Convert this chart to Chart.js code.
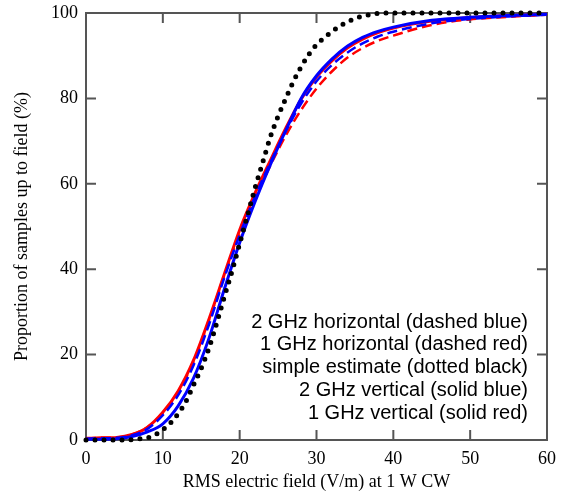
<!DOCTYPE html>
<html lang="en">
<head>
  <meta charset="UTF-8" />
  <title>RMS field distribution</title>
  <script src="https://cdn.jsdelivr.net/npm/chart.js"></script>
  <style>
    body { margin: 0; background: #fff; }
    canvas { display: block; }
  </style>
</head>
<body>
<canvas id="grafico" width="565" height="495"></canvas>

<script>
  // x positions (V/m) shared by the measured curves
  const campo = [0, 2, 4, 6, 8, 10, 12, 14, 16, 18, 20, 22, 24, 26, 28, 30, 32, 34, 36, 38, 40, 45, 50, 55, 60];

  const h2GHz = [0.3, 0.4, 0.5, 1.1, 2.6, 5.8, 10.5, 17.5, 27, 38, 48, 57, 65, 72.3, 78.8, 84, 87.8, 90.7, 92.9, 94.5, 95.6, 97.6, 98.6, 99.2, 99.6];
  const h1GHz = [0.4, 0.5, 0.6, 1.3, 3.0, 6.3, 11.3, 18.3, 28, 38.5, 48.3, 56.5, 64.3, 71.3, 77.3, 82.3, 86.3, 89.5, 91.8, 93.5, 94.7, 97.2, 98.5, 99.1, 99.6];
  const v2GHz = [0.2, 0.2, 0.3, 0.8, 1.9, 3.8, 8.0, 14.5, 23.8, 35.3, 46.2, 55.8, 64.5, 72.5, 80, 85.3, 89.2, 92.2, 94.3, 95.7, 96.7, 98.3, 99.0, 99.4, 99.7];
  const v1GHz = [0.4, 0.5, 0.6, 1.3, 3.0, 6.5, 11.5, 18.7, 28.3, 38.8, 49.2, 57.8, 65.5, 73, 79.8, 85, 88.8, 91.8, 93.9, 95.4, 96.5, 98.1, 98.9, 99.4, 99.7];

  // simple estimate, read at its own x positions
  const estX = [0, 2, 4, 6, 7, 8, 9, 10, 11, 12, 13, 14, 15, 16, 17, 18, 19, 20, 21, 22, 23, 24, 25, 26, 27, 28, 29, 30, 31, 32, 33, 34, 35, 36, 37, 38, 40, 45, 50, 55, 60];
  const estY = [0, 0, 0, 0.1, 0.3, 0.5, 1.2, 2.4, 4.0, 6.2, 9.0, 12.9, 16.8, 21.5, 27.3, 33.5, 39.5, 46, 52.5, 59, 65, 71, 75.8, 80, 84, 87.4, 90.3, 92.6, 94.2, 95.6, 96.9, 97.9, 98.7, 99.3, 99.6, 99.9, 100, 100, 100, 100, 100];

  const xTicks = [0, 10, 20, 30, 40, 50, 60];
  const yTicks = [0, 20, 40, 60, 80, 100];

  const legendText = [
    '2 GHz horizontal (dashed blue)',
    '1 GHz horizontal (dashed red)',
    'simple estimate (dotted black)',
    '2 GHz vertical (solid blue)',
    '1 GHz vertical (solid red)'
  ];

  const pares = (xs, ys) => xs.map((x, i) => ({ x: x, y: ys[i] }));
  const serif = "'Liberation Serif', 'Times New Roman', serif";

  // box round the plot with ticks pointing inwards on all four sides
  const moldura = {
    id: 'moldura',
    beforeDatasetsDraw(chart) {
      const { ctx, chartArea: a } = chart;
      const sx = chart.scales.x, sy = chart.scales.y;
      ctx.save();
      ctx.strokeStyle = '#555';
      ctx.lineWidth = 2;
      ctx.strokeRect(a.left, a.top, a.right - a.left, a.bottom - a.top);
      ctx.beginPath();
      xTicks.forEach(v => {
        const px = sx.getPixelForValue(v);
        ctx.moveTo(px, a.bottom); ctx.lineTo(px, a.bottom - 10);
        ctx.moveTo(px, a.top); ctx.lineTo(px, a.top + 10);
      });
      yTicks.forEach(v => {
        const py = sy.getPixelForValue(v);
        ctx.moveTo(a.left, py); ctx.lineTo(a.left + 10, py);
        ctx.moveTo(a.right, py); ctx.lineTo(a.right - 10, py);
      });
      ctx.stroke();
      ctx.restore();
    },
    afterDraw(chart) {
      const ctx = chart.ctx;
      ctx.save();
      ctx.font = "20px 'Liberation Sans', Arial, sans-serif";
      ctx.fillStyle = '#000';
      ctx.textAlign = 'right';
      ctx.textBaseline = 'middle';
      legendText.forEach((t, i) => ctx.fillText(t, 528, 322 + i * 22.8));
      ctx.restore();
    }
  };

  new Chart(document.getElementById('grafico'), {
    type: 'line',
    data: {
      datasets: [
        { label: legendText[2], data: pares(estX, estY), borderColor: '#000', borderWidth: 5,
          borderDash: [0, 9], borderCapStyle: 'round', order: 0 },
        { label: legendText[3], data: pares(campo, v2GHz), borderColor: '#0000ff', borderWidth: 3, order: 1 },
        { label: legendText[0], data: pares(campo, h2GHz), borderColor: '#0000ff', borderWidth: 2.5,
          borderDash: [10, 5], order: 2 },
        { label: legendText[1], data: pares(campo, h1GHz), borderColor: '#ff0000', borderWidth: 2.5,
          borderDash: [10, 5], order: 3 },
        { label: legendText[4], data: pares(campo, v1GHz), borderColor: '#ff0000', borderWidth: 3, order: 4 }
      ]
    },
    options: {
      responsive: false,
      animation: false,
      clip: false,
      elements: { point: { radius: 0 }, line: { cubicInterpolationMode: 'monotone' } },
      layout: { padding: { left: 0, top: 13, right: 18, bottom: 0 } },
      plugins: { legend: { display: false }, tooltip: { enabled: false } },
      scales: {
        x: {
          type: 'linear', min: 0, max: 60,
          afterFit: s => { s.height = 55; s.paddingLeft = 0; s.paddingRight = 0; },
          afterBuildTicks: s => { s.ticks = xTicks.map(v => ({ value: v })); },
          grid: { display: false, drawTicks: false }, border: { display: false },
          ticks: { color: '#000', padding: 8, maxRotation: 0, font: { family: serif, size: 18 } },
          title: { display: true, text: 'RMS electric field (V/m) at 1 W CW', color: '#000',
            padding: { top: 0, bottom: 2 }, font: { family: serif, size: 18 } }
        },
        y: {
          min: 0, max: 100,
          afterFit: s => { s.width = 86; s.paddingTop = 0; s.paddingBottom = 0; },
          afterBuildTicks: s => { s.ticks = yTicks.map(v => ({ value: v })); },
          grid: { display: false, drawTicks: false }, border: { display: false },
          ticks: { color: '#000', padding: 8, font: { family: serif, size: 18 } },
          title: { display: true, text: 'Proportion of samples up to field (%)', color: '#000',
            padding: { top: 11, bottom: 0 }, font: { family: serif, size: 18 } }
        }
      }
    },
    plugins: [moldura]
  });
</script>
</body>
</html>
